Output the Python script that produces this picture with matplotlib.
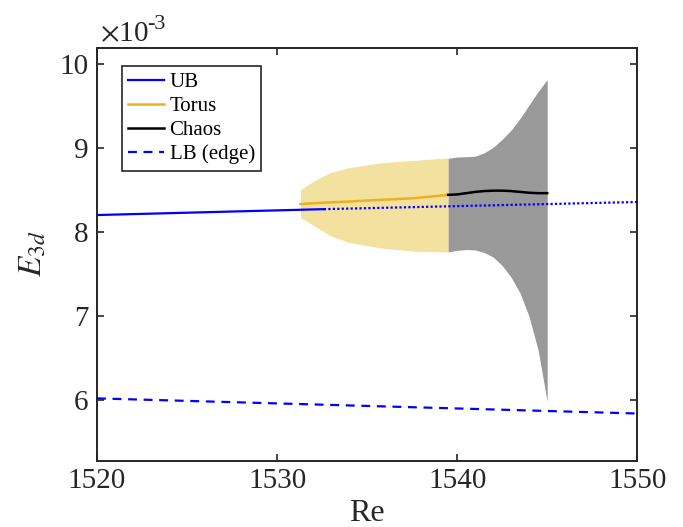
import matplotlib
matplotlib.use("Agg")
import matplotlib.pyplot as plt
import numpy as np

plt.rcParams['font.family'] = ['Liberation Serif', 'DejaVu Serif']
plt.rcParams['mathtext.fontset'] = 'stix'

# ---- data (E in units of 1e-3) ----
ub_solid_re = [1520, 1532.6]
ub_solid_e = [8.20, 8.27]
ub_dot_re = [1532.6, 1550]
ub_dot_e = [8.27, 8.355]

lb_re = [1520, 1550]
lb_e = [6.02, 5.84]

torus_re = [1531.3, 1532.0, 1532.9, 1533.9, 1535.7, 1537.6, 1539.5]
torus_mean = [8.33, 8.34, 8.35, 8.36, 8.38, 8.40, 8.44]
torus_upper = [8.50, 8.60, 8.70, 8.76, 8.82, 8.85, 8.88]
torus_lower = [8.17, 8.08, 7.96, 7.88, 7.81, 7.77, 7.76]

chaos_re = [1539.5, 1540.0, 1540.5, 1541.0, 1541.5, 1542.0, 1542.5, 1543.0, 1543.5, 1544.0, 1544.5, 1545.0]
chaos_mean = [8.44, 8.445, 8.46, 8.475, 8.485, 8.49, 8.49, 8.485, 8.475, 8.465, 8.46, 8.46]
chaos_upper = [8.874, 8.89, 8.893, 8.90, 8.94, 9.005, 9.10, 9.21, 9.35, 9.51, 9.67, 9.81]
chaos_lower = [7.762, 7.78, 7.79, 7.785, 7.755, 7.70, 7.60, 7.46, 7.27, 6.99, 6.59, 5.98]

xticks = [1520, 1530, 1540, 1550]
yticks = [6, 7, 8, 9, 10]

scale = 1e-3
fig = plt.figure(figsize=(6.83, 5.27), dpi=100)
ax = fig.add_axes([0.142, 0.126, 0.933 - 0.142, 0.9095 - 0.126])

s = lambda a: np.array(a) * scale

ax.fill_between(torus_re, s(torus_lower), s(torus_upper), color='#F3E1A0', linewidth=0, zorder=1)
ax.fill_between(chaos_re, s(chaos_lower), s(chaos_upper), color='#999999', linewidth=0, zorder=1)

l_ub, = ax.plot(ub_solid_re, s(ub_solid_e), color='#0000FF', lw=1.6, zorder=3, label='UB')
ax.plot(ub_dot_re, s(ub_dot_e), color='#0000FF', lw=1.6, ls=(0, (1, 1.0)), zorder=3)
l_t, = ax.plot(torus_re, s(torus_mean), color='#EDB120', lw=1.8, zorder=2, label='Torus')
l_c, = ax.plot(chaos_re, s(chaos_mean), color='black', lw=1.8, zorder=2, label='Chaos')
l_lb, = ax.plot(lb_re, s(lb_e), color='#0000FF', lw=1.6, ls=(0, (4, 3)), zorder=3, label='LB (edge)')

ax.set_xlim(1520, 1550)
ax.set_ylim(5.28e-3, 10.19e-3)
ax.set_xticks(xticks)
ax.set_xticklabels([str(t) for t in xticks])
ax.set_yticks(s(yticks))
ax.set_yticklabels([str(t) for t in yticks])

for sp in ax.spines.values():
    sp.set_linewidth(1.4)
    sp.set_color('#262626')
ax.tick_params(direction='in', length=5, width=1.2, colors='#262626', labelsize=21,
               top=True, right=True)
ax.tick_params(axis='x', pad=5)
ax.tick_params(axis='y', pad=6)

ax.set_xlabel('Re', fontsize=23, color='#262626', labelpad=4)
ax.set_ylabel(r'$E_{3d}$', fontsize=24, color='#262626', labelpad=8)

# exponent label
fig.text(0.146, 0.922, r'$\times$10', fontsize=21, color='#262626', ha='left', va='baseline')
fig.text(0.216, 0.945, '-3', fontsize=16, color='#262626', ha='left', va='baseline')

leg = ax.legend(handles=[l_ub, l_t, l_c, l_lb], loc='upper left',
                bbox_to_anchor=(0.0457, 0.9557), fontsize=15, frameon=True, fancybox=False,
                edgecolor='#262626', framealpha=1, borderpad=0.3, labelspacing=0.22,
                handlelength=1.75, handletextpad=0.25, borderaxespad=0)
leg.get_frame().set_linewidth(1.2)

fig.savefig('out.png', dpi=100)
